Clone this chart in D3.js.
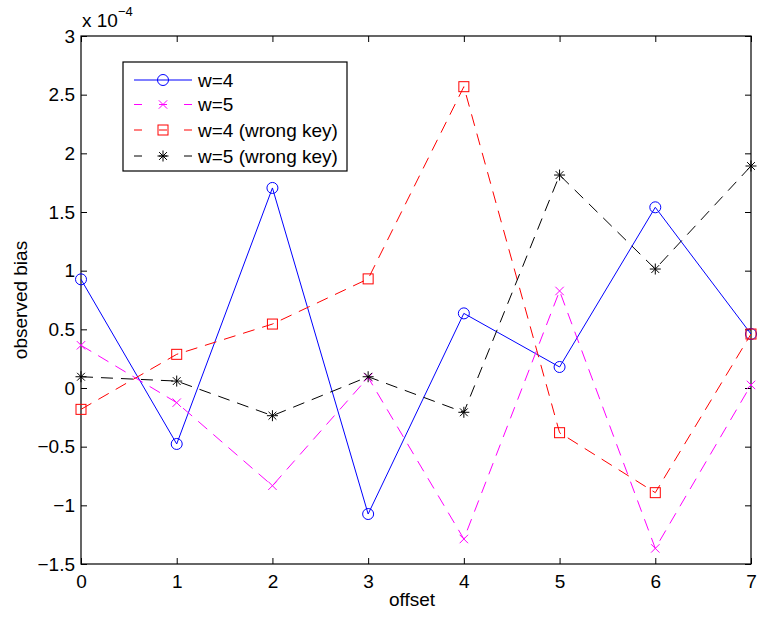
<!DOCTYPE html>
<html>
<head>
<meta charset="utf-8">
<script src="https://cdn.jsdelivr.net/npm/d3@7"></script>
<style>
  html, body { margin: 0; padding: 0; background: #fff; }
  svg { display: block; }
  text { font-family: "Liberation Sans", Arial, Helvetica, sans-serif; fill: #000; }
</style>
</head>
<body>
<svg id="chart" width="757" height="621"></svg>
<script>
// ---- data (values in units of 1e-4) ----
const offsets = [0, 1, 2, 3, 4, 5, 6, 7];
const w4      = [0.926, -0.477, 1.705, -1.074, 0.636, 0.179, 1.540, 0.460];
const w5      = [0.364, -0.125, -0.833, 0.090, -1.287, 0.827, -1.367, 0.026];
const w4wrong = [-0.182, 0.287, 0.545, 0.930, 2.568, -0.381, -0.892, 0.460];
const w5wrong = [0.096, 0.059, -0.236, 0.096, -0.207, 1.815, 1.014, 1.892];
const seriesNames = ["w=4", "w=5", "w=4 (wrong key)", "w=5 (wrong key)"];
const xTicks = [0, 1, 2, 3, 4, 5, 6, 7];
const yTicks = [-1.5, -1, -0.5, 0, 0.5, 1, 1.5, 2, 2.5, 3];
const yTickLabels = ["\u22121.5", "\u22121", "\u22120.5", "0", "0.5", "1", "1.5", "2", "2.5", "3"];
const scaleExp = -4;

// ---- layout ----
const svg = d3.select("#chart");
const L = 81, R = 751, T = 36, B = 564;
const FS = 19;
const x = d3.scaleLinear().domain([0, 7]).range([L, R]);
const y = d3.scaleLinear().domain([-1.5, 3]).range([B, T]);

const styles = [
  { color: "#0000ff", dash: null, marker: "circle" },
  { color: "#ff00ff", dash: "12,8", marker: "x" },
  { color: "#ff0000", dash: "12,8", marker: "square" },
  { color: "#000000", dash: "12,8", marker: "star" }
];
const allSeries = [w4, w5, w4wrong, w5wrong];

// axes
function styleAxis(g) {
  g.attr("font-family", null).attr("font-size", null);
  g.selectAll("text").attr("font-size", FS).style("fill", "#000");
  g.selectAll("line").attr("stroke", "#000").attr("stroke-width", 1);
  g.select(".domain").remove();
}
svg.append("g").attr("transform", `translate(0,${B})`)
  .call(d3.axisBottom(x).tickValues(xTicks).tickSizeInner(-6).tickSizeOuter(0).tickPadding(11).tickFormat(d3.format("d")))
  .call(styleAxis);
svg.append("g").attr("transform", `translate(0,${T})`)
  .call(d3.axisTop(x).tickValues(xTicks).tickSizeInner(-6).tickSizeOuter(0).tickFormat(""))
  .call(styleAxis);
svg.append("g").attr("transform", `translate(${L},0)`)
  .call(d3.axisLeft(y).tickValues(yTicks).tickSizeInner(-6).tickSizeOuter(0).tickPadding(6)
    .tickFormat((d, i) => yTickLabels[i]))
  .call(styleAxis);
svg.append("g").attr("transform", `translate(${R},0)`)
  .call(d3.axisRight(y).tickValues(yTicks).tickSizeInner(-6).tickSizeOuter(0).tickFormat(""))
  .call(styleAxis);

svg.append("rect").attr("x", L).attr("y", T).attr("width", R - L).attr("height", B - T)
  .attr("fill", "none").attr("stroke", "#000").attr("stroke-width", 1.2);

// exponent label
const ex = svg.append("text").attr("x", L + 1).attr("y", 27).attr("font-size", FS);
ex.append("tspan").text("x 10");
ex.append("tspan").attr("font-size", 13).attr("dy", -11).text("\u2212" + Math.abs(scaleExp));

// axis titles
svg.append("text").attr("x", 412).attr("y", 606).attr("text-anchor", "middle")
  .attr("font-size", FS).text("offset");
svg.append("text").attr("transform", `translate(27,${(T + B) / 2}) rotate(-90)`)
  .attr("text-anchor", "middle").attr("font-size", FS).text("observed bias");

// markers
function drawMarker(g, type, cx, cy, color) {
  if (type === "circle") {
    g.append("circle").attr("cx", cx).attr("cy", cy).attr("r", 5.5)
      .attr("fill", "none").attr("stroke", color).attr("stroke-width", 1);
  } else if (type === "square") {
    g.append("rect").attr("x", cx - 5).attr("y", cy - 5).attr("width", 10).attr("height", 10)
      .attr("fill", "none").attr("stroke", color).attr("stroke-width", 1);
  } else if (type === "x") {
    const s = 4.2;
    g.append("path").attr("d", `M${cx - s},${cy - s}L${cx + s},${cy + s}M${cx - s},${cy + s}L${cx + s},${cy - s}`)
      .attr("stroke", color).attr("stroke-width", 1).attr("fill", "none");
  } else if (type === "star") {
    const s = 5.5, d = 3.9;
    g.append("path").attr("d",
      `M${cx - s},${cy}L${cx + s},${cy}M${cx},${cy - s}L${cx},${cy + s}` +
      `M${cx - d},${cy - d}L${cx + d},${cy + d}M${cx - d},${cy + d}L${cx + d},${cy - d}`)
      .attr("stroke", color).attr("stroke-width", 1).attr("fill", "none");
  }
}

const line = d3.line().x((d, i) => x(offsets[i])).y(d => y(d));
allSeries.forEach((vals, si) => {
  const st = styles[si];
  const g = svg.append("g");
  g.append("path").datum(vals).attr("d", line)
    .attr("fill", "none").attr("stroke", st.color).attr("stroke-width", 1)
    .attr("stroke-dasharray", st.dash);
  vals.forEach((v, i) => drawMarker(g, st.marker, x(offsets[i]), y(v), st.color));
});

// legend
const lg = svg.append("g");
lg.append("rect").attr("x", 123).attr("y", 62).attr("width", 224).attr("height", 109)
  .attr("fill", "#fff").attr("stroke", "#000").attr("stroke-width", 1.2);
const legY = [80, 104.5, 130, 156];
seriesNames.forEach((name, i) => {
  const st = styles[i];
  const yy = legY[i];
  lg.append("line").attr("x1", 134).attr("x2", 192).attr("y1", yy).attr("y2", yy)
    .attr("stroke", st.color).attr("stroke-width", 1)
    .attr("stroke-dasharray", st.dash ? "8,17" : null);
  drawMarker(lg, st.marker, 163, yy, st.color);
  lg.append("text").attr("x", 198).attr("y", yy).attr("dy", "0.35em")
    .attr("font-size", FS).text(name);
});
</script>
</body>
</html>
